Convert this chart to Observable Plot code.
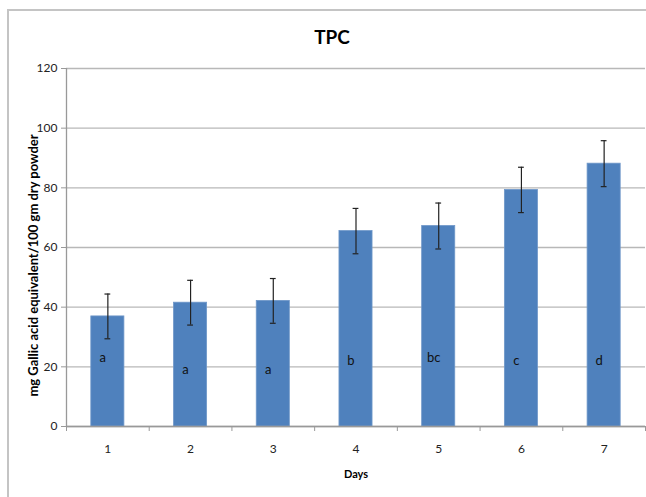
<!DOCTYPE html>
<html>
<head>
<meta charset="utf-8">
<script src="https://cdn.jsdelivr.net/npm/d3@7"></script>
<script src="https://cdn.jsdelivr.net/npm/@observablehq/plot@0.6"></script>
<style>
  html, body { margin: 0; padding: 0; background: #fff; overflow: hidden; width: 646px; height: 497px; }
  ::-webkit-scrollbar { display: none; width: 0; height: 0; }
  #wrap { position: relative; width: 646px; height: 497px; overflow: hidden; background: #fff; }
  .bt { position: absolute; left: 7px; top: 9px; width: 639px; height: 2px; background: #c4c4c4; }
  .bl { position: absolute; left: 7px; top: 9px; width: 2px; height: 488px; background: #c4c4c4; }
  #title { position: absolute; left: 300px; width: 64px; top: 25px; text-align: center;
           font-family: Lato, "Open Sans", sans-serif;
           font-weight: bold; font-size: 19px; color: #000; }
  #chart { position: absolute; left: 0; top: 0; width: 646px; height: 497px; }
  #chart svg { display: block; }
</style>
</head>
<body>
<div id="wrap">
  <div class="bt"></div>
  <div class="bl"></div>
  <div id="chart"></div>
  <div id="title">TPC</div>
</div>
<script>
const days = [1, 2, 3, 4, 5, 6, 7];
const tpc = [36.9, 41.5, 42.1, 65.5, 67.2, 79.3, 88.1];
const sd = [7.5, 7.5, 7.5, 7.6, 7.7, 7.6, 7.7];
const letters = ["a", "a", "a", "b", "bc", "c", "d"];
const letterY = [23, 19, 19, 22, 23, 22, 22];
const yTicks = [0, 20, 40, 60, 80, 100, 120];
const yLabel = "mg Gallic acid equivalent/100 gm dry powder";
const xLabel = "Days";

const data = days.map((d, i) => ({day: d, v: tpc[i], sd: sd[i], letter: letters[i], ly: letterY[i]}));
const boundaries = [0.5, ...days.map(d => d + 0.5)];
const font = "Lato, 'Open Sans', sans-serif";

const chart = Plot.plot({
  width: 646,
  height: 497,
  marginTop: 68,
  marginBottom: 71,
  marginLeft: 66,
  marginRight: 1,
  style: {fontFamily: font, background: "transparent", color: "#000"},
  x: {type: "linear", domain: [0.5, 7.5]},
  y: {domain: [0, 120]},
  marks: [
    Plot.gridY(yTicks, {stroke: "#b8b8b8", strokeOpacity: 1, strokeWidth: 1.3}),
    Plot.axisY({ticks: yTicks, tickSize: 5, tickPadding: 4, fontSize: 12, stroke: "#999", label: null, color: "#222"}),
    Plot.axisX({ticks: days, tickSize: 0, tickPadding: 18, fontSize: 12, tickFormat: d => String(d), label: null, color: "#222"}),
    Plot.axisX({ticks: boundaries, tickSize: 5, tickFormat: () => "", stroke: "#999", label: null}),
    Plot.rectY(data, {x1: d => d.day - 0.2, x2: d => d.day + 0.2, y1: 0, y2: "v", fill: "#4f81bd", stroke: "#6f97c9", strokeWidth: 0.8}),
    Plot.ruleY([0], {stroke: "#999", strokeWidth: 1.3}),
    Plot.ruleX([0.5], {stroke: "#999", strokeWidth: 1.3}),
    Plot.ruleX(data, {x: "day", y1: d => d.v - d.sd, y2: d => d.v + d.sd, stroke: "#222", strokeWidth: 1.2}),
    Plot.ruleY(data, {x1: d => d.day - 0.035, x2: d => d.day + 0.035, y: d => d.v + d.sd, stroke: "#222", strokeWidth: 1.2}),
    Plot.ruleY(data, {x1: d => d.day - 0.035, x2: d => d.day + 0.035, y: d => d.v - d.sd, stroke: "#222", strokeWidth: 1.2}),
    Plot.text(data, {x: "day", y: "ly", text: "letter", dx: -5, fontSize: 13, fill: "#111"}),
    Plot.text([yLabel], {frameAnchor: "left", textAnchor: "middle", text: d => d, rotate: -90, dx: -33, dy: 18, fontSize: 13, fontWeight: "bold", fill: "#000"}),
    Plot.text([xLabel], {frameAnchor: "bottom", text: d => d, dy: 51, fontSize: 11, fontWeight: "bold", fill: "#000"})
  ]
});
document.getElementById("chart").appendChild(chart);
</script>
</body>
</html>
